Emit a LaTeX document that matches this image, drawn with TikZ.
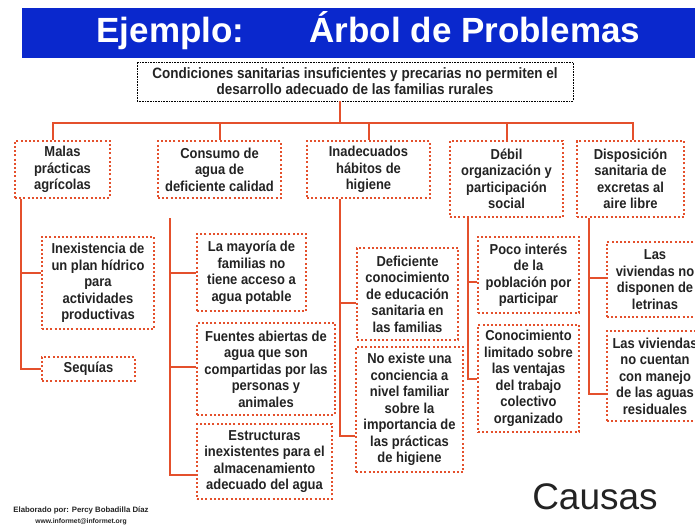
\documentclass[tikz,border=0pt]{standalone}
\usepackage{fontspec}
\setmainfont{Liberation Sans}
\newfontfamily\estrecha{Liberation Sans}[FakeStretch=0.9]
\definecolor{rojo}{RGB}{228,80,44}
\definecolor{azul}{RGB}{10,40,205}
\definecolor{texto}{RGB}{35,35,35}
\tikzset{
  causa/.style={draw=rojo, line width=2pt, dash pattern=on 2pt off 2.2pt,
    align=center, inner sep=0pt, text=texto,
    font=\estrecha\bfseries\fontsize{14.4}{16.5}\selectfont},
  rama/.style={draw=rojo, line width=2pt},
}
\begin{document}
\begin{tikzpicture}[x=1pt,y=-1pt]
  \useasboundingbox (0,0) rectangle (695,527);
  \clip (0,0) rectangle (695,527);
  % titulo
  \fill[azul] (22,8) rectangle (705,58);
  \node[anchor=base west, text=white, font=\bfseries\fontsize{35}{38}\selectfont]
    (ejemplo) at (93,43) {Ejemplo:};
  \node[anchor=base west, text=white, font=\bfseries\fontsize{35}{38}\selectfont]
    (arbol) at (306,43) {Árbol de Problemas};
  % problema central
  \node[draw=black, line width=0.8pt, dash pattern=on 0.8pt off 0.8pt,
    minimum width=436pt, minimum height=39pt, inner sep=0pt, align=center,
    text=texto, font=\estrecha\bfseries\fontsize{15}{16}\selectfont]
    (prob) at (355,81.5)
    {Condiciones sanitarias insuficientes y precarias no permiten el\\
     desarrollo adecuado de las familias rurales};
  % causas directas
  \path
    (62.5,169.5) node[causa, minimum width=95pt, minimum height=57pt] (m1) {Malas\\prácticas\\agrícolas}
    (219.5,169.5) node[causa, minimum width=123pt, minimum height=57pt] (m2) {Consumo de\\agua de\\deficiente calidad}
    (368.5,169.5) node[causa, minimum width=123pt, minimum height=57pt] (m3) {Inadecuados\\hábitos de\\higiene}
    (506.5,179) node[causa, minimum width=113pt, minimum height=76pt] (m4) {Débil\\organización y\\participación\\social}
    (630.5,179) node[causa, minimum width=107pt, minimum height=76pt] (m5) {Disposición\\sanitaria de\\excretas al\\aire libre};
  % causas indirectas
  \path
    (98,283) node[causa, minimum width=112pt, minimum height=92pt] (c11) {Inexistencia de\\un plan hídrico\\para\\actividades\\productivas}
    (88.5,369) node[causa, minimum width=93pt, minimum height=24pt] (c12) {Sequías}
    (251.5,272.5) node[causa, minimum width=109pt, minimum height=77pt] (c21) {La mayoría de\\familias no\\tiene acceso a\\agua potable}
    (266,369) node[causa, minimum width=138pt, minimum height=92pt] (c22) {Fuentes abiertas de\\agua que son\\compartidas por las\\personas y\\animales}
    (264.5,461.5) node[causa, minimum width=135pt, minimum height=75pt] (c23) {Estructuras\\inexistentes para el\\almacenamiento\\adecuado del agua}
    (407.5,294) node[causa, minimum width=101pt, minimum height=92pt] (c31) {Deficiente\\conocimiento\\de educación\\sanitaria en\\las familias}
    (409.5,409.5) node[causa, minimum width=107pt, minimum height=125pt] (c32) {No existe una\\conciencia a\\nivel familiar\\sobre la\\importancia de\\las prácticas\\de higiene}
    (528.5,275) node[causa, minimum width=101pt, minimum height=76pt] (c41) {Poco interés\\de la\\población por\\participar}
    (528.5,378.5) node[causa, minimum width=101pt, minimum height=107pt] (c42) {Conocimiento\\limitado sobre\\las ventajas\\del trabajo\\colectivo\\organizado}
    (655,279.5) node[causa, minimum width=96pt, minimum height=75pt] (c51) {Las\\viviendas no\\disponen de\\letrinas}
    (655,376) node[causa, minimum width=96pt, minimum height=90pt] (c52) {Las viviendas\\no cuentan\\con manejo\\de las aguas\\residuales};
  % puntos de las ramas
  \path (340,123) coordinate (barra)
    (21,273) coordinate (b11)
    (170,218) coordinate (t2)
    (170,273) coordinate (b21)
    (170,367) coordinate (b22)
    (170,475) coordinate (b23)
    (340,303) coordinate (b31)
    (340,436) coordinate (b32)
    (468,282) coordinate (b41)
    (589,278) coordinate (b51)
    (589,394) coordinate (b52);
  \begin{scope}[rama]
    \draw ([xshift=-15pt]prob.south) -- (barra);
    \draw ([xshift=-9.5pt]m1.north) |- ([xshift=2.5pt]m5.north |- barra) -- ([xshift=2.5pt]m5.north);
    \draw (m2.north) -- (m2.north |- barra);
    \draw (m3.north) -- (m3.north |- barra);
    \draw (m4.north) -- (m4.north |- barra);
    \draw (m1.south -| b11) |- (c12.west);
    \draw (b11) -- (b11 -| c11.west);
    \draw (t2) -- (b23) -- (b23 -| c23.west);
    \draw (b21) -- (b21 -| c21.west);
    \draw (b22) -- (b22 -| c22.west);
    \draw (m3.south -| b31) -- (b32) -- (b32 -| c32.west);
    \draw (b31) -- (b31 -| c31.west);
    \draw (m4.south -| b41) |- (c42.west);
    \draw (b41) -- (b41 -| c41.west);
    \draw (m5.south -| b51) -- (b52) -- (b52 -| c52.west);
    \draw (b51) -- (b51 -| c51.west);
  \end{scope}
  % pie
  \node[align=center, text=texto, font=\bfseries\fontsize{7.8}{11}\selectfont]
    (autor) at (81,515.5) {Elaborado por: Percy Bobadilla Díaz\\{\fontsize{6.8}{8}\selectfont www.informet@informet.org}};
  \node[anchor=base, text=texto, font=\fontsize{37}{40}\selectfont]
    (causas) at (595,509) {Causas};
\end{tikzpicture}
\end{document}
